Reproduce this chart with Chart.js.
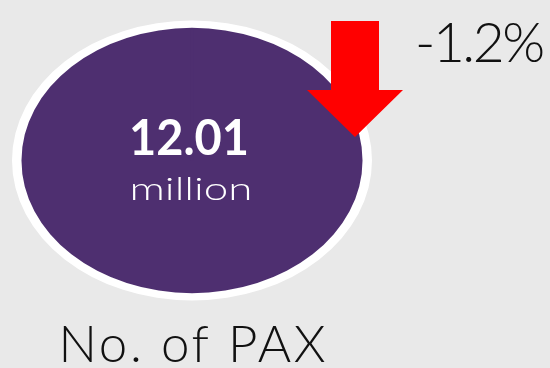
<!DOCTYPE html>
<html>
<head>
<meta charset="utf-8">
<script src="https://cdn.jsdelivr.net/npm/chart.js@4/dist/chart.umd.min.js"></script>
<style>
  html, body { margin: 0; padding: 0; background: #e9e9e9; overflow: hidden; }
  canvas { display: block; }
</style>
</head>
<body>
<canvas id="kpi" width="550" height="368"></canvas>
<script>
// KPI figures
const categories = ['No. of PAX'];
const paxMillions = [12.01];
const unitLabels = ['million'];
const changePct = [-1.2];

// styling
const PURPLE = '#4e2f70';
const RED = '#ff0000';
const ELLIPSE_RATIO = 180 / 140;   // horizontal stretch of the round pie into an oval
const FONT = 'Lato, "Open Sans", sans-serif';

// stretch the pie horizontally around its own centre
const ellipseStretch = {
  id: 'ellipseStretch',
  beforeDatasetsDraw(chart) {
    const arc = chart.getDatasetMeta(0).data[0];
    const ctx = chart.ctx;
    ctx.save();
    ctx.translate(arc.x, arc.y);
    ctx.scale(ELLIPSE_RATIO, 1);
    ctx.translate(-arc.x, -arc.y);
  },
  afterDatasetsDraw(chart) {
    chart.ctx.restore();
  }
};

// draw text spread to a given width (letter spacing)
function fitText(ctx, text, x, y, width, align) {
  ctx.letterSpacing = '0px';
  const w = ctx.measureText(text).width;
  const sp = (width - w) / Math.max(text.length - 1, 1);
  ctx.letterSpacing = sp + 'px';
  const full = w + sp * (text.length - 1);
  const left = align === 'center' ? x - full / 2 : x;
  ctx.textAlign = 'left';
  ctx.fillText(text, left, y);
  ctx.letterSpacing = '0px';
}

// draw text scaled horizontally to a given width
function wideText(ctx, text, cx, y, width) {
  ctx.letterSpacing = '0px';
  const w = ctx.measureText(text).width;
  ctx.save();
  ctx.translate(cx, y);
  ctx.scale(width / w, 1);
  ctx.textAlign = 'center';
  ctx.fillText(text, 0, 0);
  ctx.restore();
}

// value, unit, caption, change indicator
const kpiLabels = {
  id: 'kpiLabels',
  afterDraw(chart) {
    const ctx = chart.ctx;
    const arc = chart.getDatasetMeta(0).data[0];
    const area = chart.chartArea;
    ctx.save();
    ctx.textBaseline = 'alphabetic';

    // headline value
    ctx.fillStyle = '#ffffff';
    ctx.font = `bold 50px ${FONT}`;
    wideText(ctx, paxMillions[0].toFixed(2), arc.x - 3, arc.y - 6, 120);

    // unit
    ctx.font = `300 32px ${FONT}`;
    wideText(ctx, unitLabels[0], arc.x - 1, arc.y + 39, 123);

    // caption under the oval
    ctx.fillStyle = '#111111';
    ctx.font = `300 51px ${FONT}`;
    fitText(ctx, categories[0], arc.x, 362, 267, 'center');

    // change arrow (points down for a decrease)
    const down = changePct[0] < 0;
    const ax = area.right + 23;      // arrow axis
    const top = area.top + 1;
    const shaftHalf = 24, headHalf = 48, headY = top + 69, tipY = top + 116;
    ctx.fillStyle = RED;
    ctx.beginPath();
    if (down) {
      ctx.moveTo(ax - shaftHalf, top);
      ctx.lineTo(ax + shaftHalf, top);
      ctx.lineTo(ax + shaftHalf, headY);
      ctx.lineTo(ax + headHalf, headY);
      ctx.lineTo(ax, tipY);
      ctx.lineTo(ax - headHalf, headY);
      ctx.lineTo(ax - shaftHalf, headY);
    } else {
      ctx.moveTo(ax - shaftHalf, tipY);
      ctx.lineTo(ax + shaftHalf, tipY);
      ctx.lineTo(ax + shaftHalf, top + 47);
      ctx.lineTo(ax + headHalf, top + 47);
      ctx.lineTo(ax, top);
      ctx.lineTo(ax - headHalf, top + 47);
      ctx.lineTo(ax - shaftHalf, top + 47);
    }
    ctx.closePath();
    ctx.fill();

    // change percentage
    ctx.fillStyle = '#111111';
    ctx.font = `300 55px ${FONT}`;
    fitText(ctx, `${changePct[0].toFixed(1)}%`, 415, 62, 130, 'left');

    ctx.restore();
  }
};

new Chart(document.getElementById('kpi'), {
  type: 'pie',
  data: {
    labels: categories,
    datasets: [
      {
        // white rim (outer ring)
        data: paxMillions,
        backgroundColor: '#ffffff',
        borderWidth: 0,
        weight: 1,
        hoverOffset: 0
      },
      {
        // purple body
        data: paxMillions,
        backgroundColor: PURPLE,
        borderColor: PURPLE,
        borderWidth: 2,
        weight: 18,
        hoverOffset: 0
      }
    ]
  },
  options: {
    responsive: false,
    animation: false,
    events: [],
    layout: { padding: { top: 20, bottom: 67, left: 52, right: 218 } },
    plugins: {
      legend: { display: false },
      tooltip: { enabled: false },
      title: { display: false }
    }
  },
  plugins: [ellipseStretch, kpiLabels]
});
</script>
</body>
</html>
